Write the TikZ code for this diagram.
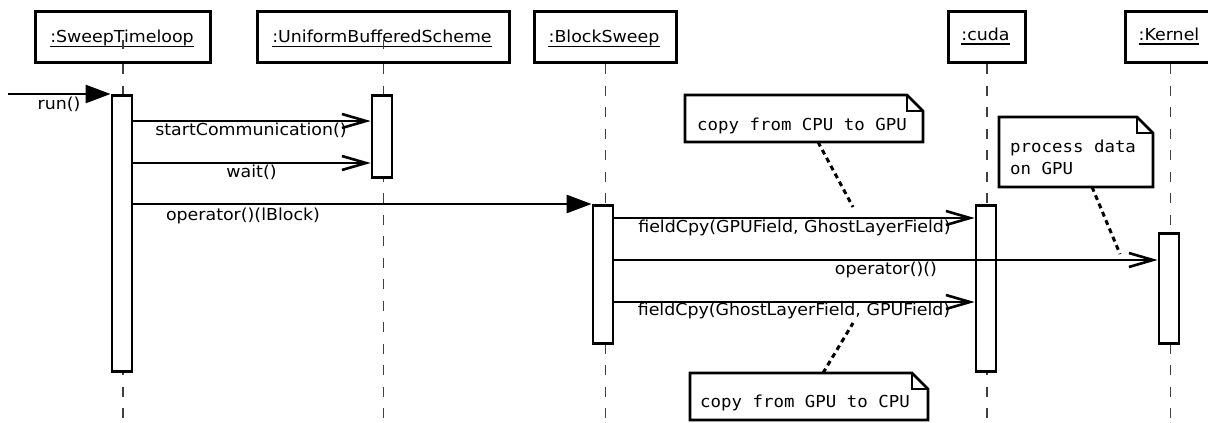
\documentclass[tikz,border=0pt]{standalone}
\usepackage{fontspec}
\setmainfont{DejaVu Sans}[FakeStretch=1.055]
\setmonofont{DejaVu Sans Mono}[FakeStretch=1.055]
\usetikzlibrary{arrows.meta}
\newcommand{\dogear}[1]{%
  \draw[notefr, fill=white] (#1.north west) -- ([xshift=-16pt]#1.north east) -- ([yshift=-16pt]#1.north east) -- (#1.south east) -- (#1.south west) -- cycle;
  \draw[notefr] ([xshift=-16pt]#1.north east) -- ([xshift=-16pt,yshift=-16pt]#1.north east) -- ([yshift=-16pt]#1.north east);}
\newcommand{\ulname}[1]{\draw[line width=1.2pt] ([yshift=-3.4pt]#1.base west) -- ([yshift=-3.4pt]#1.base east);}
\begin{document}
\begin{tikzpicture}[x=1pt,y=-1pt,
  font=\fontsize{16.5}{22}\selectfont,
  objbox/.style={draw, line width=3.1pt, inner sep=0pt, anchor=north west, minimum height=51pt},
  title/.style={inner sep=0pt, anchor=base},
  lifeline/.style={draw=black!75, line width=1.5pt, dash pattern=on 10pt off 11.5pt},
  act/.style={draw, fill=white, line width=2.8pt, inner sep=0pt, minimum width=20pt, anchor=north},
  msg/.style={line width=2.6pt, -{Straight Barb[length=24pt, width=14pt, line width=2.6pt]}},
  sync/.style={line width=2.6pt, -{Triangle[length=25pt, width=18pt]}},
  lbl/.style={inner sep=0pt, anchor=base},
  notebox/.style={inner sep=0pt, outer sep=0pt, anchor=north west},
  notefr/.style={line width=2.8pt, line join=miter},
  notetxt/.style={inner sep=0pt, font=\ttfamily\fontsize{16.5}{22}\selectfont},
  notelink/.style={line width=3pt, dash pattern=on 5pt off 4pt}
]
\useasboundingbox (0,0) rectangle (1208,423);
% object boxes
\node[objbox, minimum width=175pt] (stl) at (34,10) {};
\node[objbox, minimum width=252pt] (ubs) at (256,10) {};
\node[objbox, minimum width=142pt] (bs) at (533,10) {};
\node[objbox, minimum width=77pt] (cuda) at (947,10) {};
\node[objbox, minimum width=90pt] (kern) at (1124,10) {};
\node[title] (stlt) at (122,42.7) {:SweepTimeloop};
\node[title] (ubst) at (382,42.7) {:UniformBufferedScheme};
\node[title] (bst) at (604,42.7) {:BlockSweep};
\node[title] (cudat) at (985.5,40.5) {:cuda};
\node[title] (kernt) at (1169,40.5) {:Kernel};
\ulname{stlt}\ulname{ubst}\ulname{bst}\ulname{cudat}\ulname{kernt}
% lifelines
\draw[lifeline] (stl.south) -- ++(0,362);
\draw[lifeline] (ubs.south) -- ++(0,362);
\draw[lifeline] (bs.south) -- ++(0,362);
\draw[lifeline] (cuda.south) -- ++(0,362);
\draw[lifeline] (kern.south) -- ++(0,362);
\draw[draw=black!75, line width=1.5pt] ([yshift=-3pt]stl.center) -- ([yshift=-12pt]stl.center);
\draw[draw=black!75, line width=1.5pt] ([yshift=-3pt]ubs.center) -- ([yshift=-12pt]ubs.center);
% activations
\node[act, minimum height=276pt] (a1) at (122,94) {};
\node[act, minimum height=82pt] (a2) at (382,94) {};
\node[act, minimum height=138pt] (a3) at (603,204) {};
\node[act, minimum height=166pt] (a4) at (986,204) {};
\node[act, minimum height=110pt] (a5) at (1169,232) {};
% messages
\coordinate (start) at (8,94);
\draw[sync] (start) -- (a1.north west);
\draw[msg] ([yshift=-27pt]a1.north east) -- ([yshift=-27pt]a2.north west);
\draw[msg] ([yshift=-69pt]a1.north east) -- ([yshift=-69pt]a2.north west);
\draw[sync] ([yshift=-110pt]a1.north east) -- (a3.north west);
\draw[msg] ([yshift=-14pt]a3.north east) -- ([yshift=-14pt]a4.north west);
\draw[msg] ([yshift=-56pt]a3.north east) -- ([yshift=-28pt]a5.north west);
\draw[msg] ([yshift=-98pt]a3.north east) -- ([yshift=-98pt]a4.north west);
% labels
\node[lbl] (l1) at (59,109) {run()};
\node[lbl] (l2) at (251,135.5) {startCommunication()};
\node[lbl] (l3) at (251.5,177) {wait()};
\node[lbl] (l4) at (243,220) {operator()(lBlock)};
\node[lbl] (l5) at (794.5,232) {fieldCpy(GPUField, GhostLayerField)};
\node[lbl] (l6) at (886,274) {operator()()};
\node[lbl] (l7) at (794,315.5) {fieldCpy(GhostLayerField, GPUField)};
% notes
\node[notebox, minimum width=238pt, minimum height=47pt] (n1) at (685,95) {};
\dogear{n1}
\node[notetxt, anchor=base west] (n1t) at (697,130) {copy from CPU to GPU};
\node[notebox, minimum width=154pt, minimum height=70pt] (n2) at (999,117) {};
\dogear{n2}
\node[notetxt, anchor=north west, align=left] (n2t) at (1010,139.8) {process data\\on GPU};
\node[notebox, minimum width=238pt, minimum height=47pt] (n3) at (690,373) {};
\dogear{n3}
\node[notetxt, anchor=base west] (n3t) at (700,407) {copy from GPU to CPU};
\coordinate (c1) at (853,207);
\coordinate (c2) at (1120,254);
\coordinate (c3) at (853,323);
\draw[notelink] ([xshift=133pt]n1.south west) -- (c1);
\draw[notelink] ([xshift=93pt]n2.south west) -- (c2);
\draw[notelink] ([xshift=133pt]n3.north west) -- (c3);
\end{tikzpicture}
\end{document}
